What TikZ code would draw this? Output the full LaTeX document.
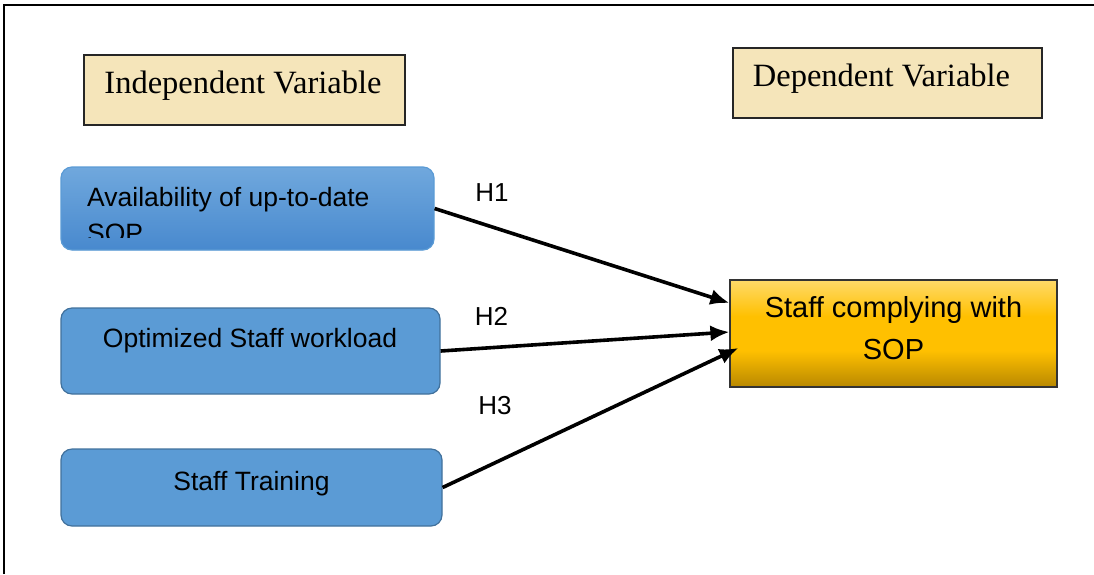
\documentclass[tikz,border=0pt]{standalone}
\usepackage{fontspec}
\setmainfont{Liberation Serif}
\newfontfamily\arialfont{Liberation Sans}
\usetikzlibrary{arrows.meta}

\definecolor{papyrus}{RGB}{245,229,186}
\definecolor{boxblue}{RGB}{91,155,213}
\definecolor{boxbluetop}{RGB}{112,168,221}
\definecolor{boxbluebot}{RGB}{72,137,206}
\definecolor{blueedge}{RGB}{65,113,156}
\definecolor{goldtop}{RGB}{255,218,105}
\definecolor{goldmid}{RGB}{255,192,0}
\definecolor{goldbot}{RGB}{184,136,0}

% gold fill, bright in the middle and darker at the foot
\pgfdeclareverticalshading{goldfill}{100bp}{color(0bp)=(goldbot); color(25bp)=(goldbot);
  color(42bp)=(goldmid); color(58bp)=(goldmid); color(75bp)=(goldtop); color(100bp)=(goldtop)}

\tikzset{
  varhead/.style={draw=black!85, line width=1.5pt, fill=papyrus, inner sep=0pt,
    font=\fontsize{32.5}{38}\selectfont},
  ivbox/.style={draw=blueedge, line width=1.2pt, fill=boxblue, rounded corners=11pt, inner sep=0pt},
  ivtext/.style={font=\arialfont\fontsize{26.5}{36}\selectfont, inner sep=0pt},
  hyp/.style={line width=3.6pt, -{Latex[length=19pt,width=16pt]}},
  hlabel/.style={font=\arialfont\fontsize{26}{30}\selectfont, inner sep=0pt}
}

\begin{document}
\begin{tikzpicture}[x=1pt,y=-1pt]
\useasboundingbox (0,0) rectangle (1094,574);

% Frame
\draw[line width=1.5pt] (4,574) -- (4,5) -- (1094,5);

% Headings
\node[varhead, minimum width=321pt, minimum height=70pt] (ivhead) at (244.5,90) {};
\node[font=\fontsize{32.5}{38}\selectfont, inner sep=0pt] (ivheadtext) at (243,86) {Independent Variable};
\node[varhead, minimum width=309pt, minimum height=70pt] (dvhead) at (887.5,83) {};
\node[font=\fontsize{32.5}{38}\selectfont, inner sep=0pt] (dvheadtext) at (881.5,79) {Dependent Variable};

% Independent variables
\node[ivbox, draw=boxblue, top color=boxbluetop, bottom color=boxbluebot,
  minimum width=373pt, minimum height=83pt] (iv1) at (247.5,208.5) {};
\begin{scope}
  \clip (iv1.north west) rectangle ([yshift=13pt]iv1.south east);
  \node[ivtext, anchor=north west, align=left] (iv1text) at (87,187) {Availability of up-to-date\\SOP};
\end{scope}

\node[ivbox, minimum width=379pt, minimum height=86pt] (iv2) at (250.5,351) {};
\node[ivtext] (iv2text) at (250,341) {Optimized Staff workload};

\node[ivbox, minimum width=381pt, minimum height=77pt] (iv3) at (251.5,487.5) {};
\node[ivtext] (iv3text) at (251.5,483.5) {Staff Training};

% Dependent variable
\node[draw=black!80, line width=1.2pt, shading=goldfill,
  minimum width=327pt, minimum height=107pt, inner sep=0pt] (dv) at (893.5,333.5) {};
\node[font=\arialfont\fontsize{29}{42}\selectfont, align=center, inner sep=0pt] (dvtext) at (893.5,328)
  {Staff complying with\\SOP};

% Hypotheses
\coordinate (h1end) at ([yshift=30.5pt]dv.west);
\coordinate (h2end) at ([yshift=1.5pt]dv.west);
\coordinate (h3end) at ([xshift=9pt,yshift=-14.5pt]dv.west);
\draw[hyp] (iv1.east) -- (h1end);
\draw[hyp] (iv2.east) -- (h2end);
\draw[hyp] (iv3.east) -- (h3end);

\node[hlabel] (h1) at (492,192.5) {H1};
\node[hlabel] (h2) at (491.5,316) {H2};
\node[hlabel] (h3) at (495,405.5) {H3};
\end{tikzpicture}
\end{document}
